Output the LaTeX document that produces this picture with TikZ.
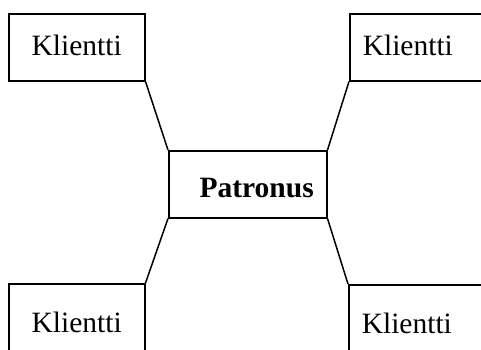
\documentclass[tikz,border=0pt]{standalone}
\usepackage{fontspec}
\setmainfont{Liberation Serif}
\usepackage{tikz}
\tikzset{
    box/.style={draw, line width=0.6pt, minimum width=54.4pt, minimum height=26.8pt, inner sep=0pt, anchor=north west, font=\fontsize{11.8}{14}\selectfont},
    client_top/.style={box, text height=6.8pt},
    client_bottom/.style={box, text height=12.4pt},
    client_right/.style={text width=44pt, inner xsep=5.2pt, align=left},
    server/.style={box, minimum width=63.2pt, text width=52.8pt, inner xsep=5.2pt, align=right, text height=10.8pt, font=\fontsize{11.8}{14}\selectfont\bfseries},
    link/.style={line width=0.6pt}
}

\begin{document}
\begin{tikzpicture}[x=0.4pt, y=-0.4pt]
    \useasboundingbox (0,0) rectangle (481,349);
    \clip (0,0) rectangle (481,349);
    % server in the middle
    \node[server] (patronus) at (168,150) {Patronus};
    % clients
    \node[client_top] (klientti_nw) at (8,13) {Klientti};
    \node[client_top, client_right] (klientti_ne) at (349,13) {Klientti};
    \node[client_bottom] (klientti_sw) at (8,283) {Klientti};
    \node[client_bottom, client_right] (klientti_se) at (348,284) {Klientti};
    % links
    \draw[link] (klientti_nw.south east) -- (patronus.north west);
    \draw[link] (klientti_ne.south west) -- (patronus.north east);
    \draw[link] (patronus.south west) -- (klientti_sw.north east);
    \draw[link] (patronus.south east) -- (klientti_se.north west);
\end{tikzpicture}
\end{document}
